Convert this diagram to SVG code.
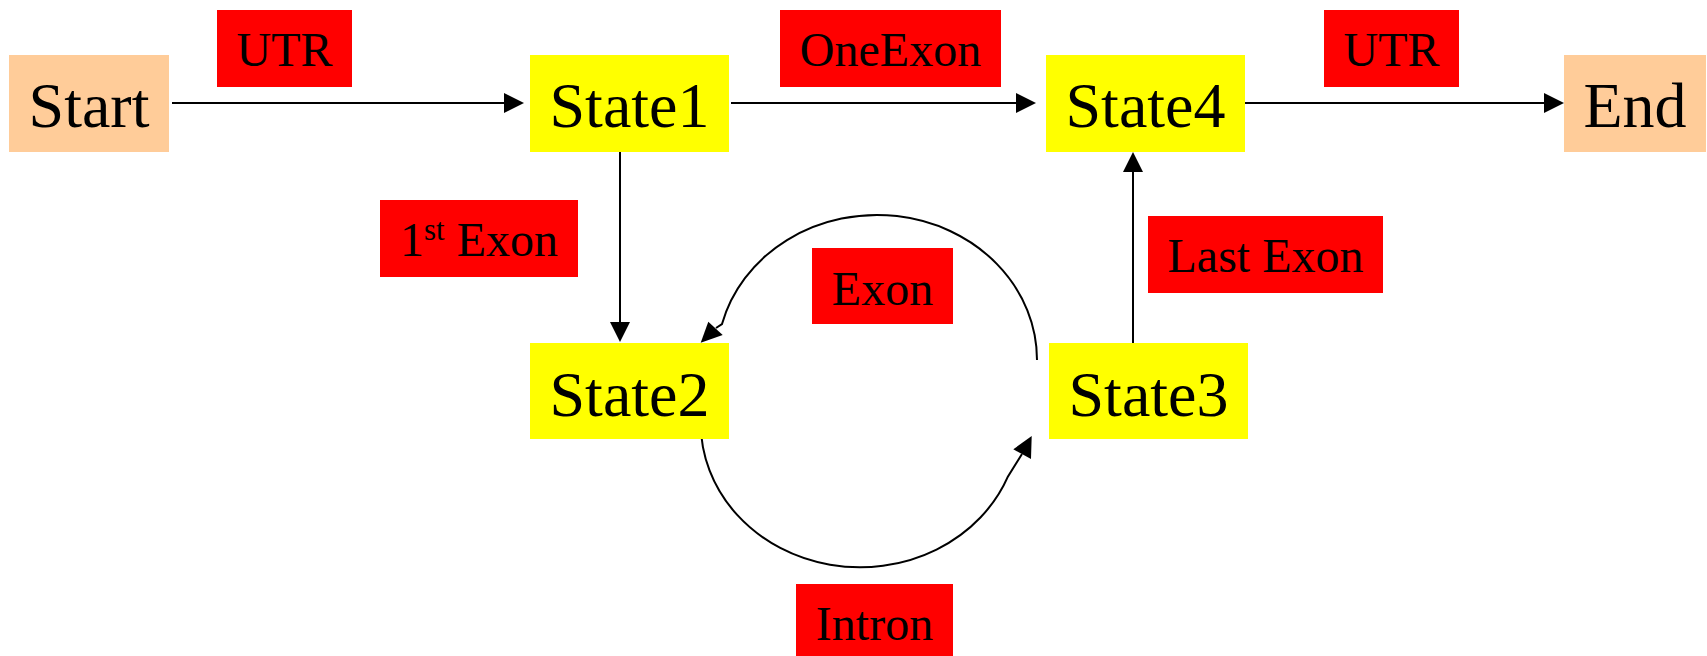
<svg xmlns="http://www.w3.org/2000/svg" width="1707" height="656" viewBox="0 0 1707 656">
<style>
  text { font-family: "Liberation Serif", "Times New Roman", serif; fill: #000; text-anchor: middle; }
  .node { font-size: 64px; }
  .lbl { font-size: 48px; }
  .term { fill: #FFCC99; }
  .state { fill: #FFFF00; }
  .tag { fill: #FF0000; }
  .conn { stroke: #000; stroke-width: 2; fill: none; }
  .head { fill: #000; }
</style>
<defs>
  <marker id="arr" markerUnits="userSpaceOnUse" markerWidth="20" markerHeight="20" refX="0" refY="10" orient="auto" viewBox="0 0 20 20">
    <path d="M0,0 L20,10 L0,20 z" fill="#000"/>
  </marker>
</defs>
<rect width="1707" height="656" fill="#fff"/>

<g id="connectors">
  <line class="conn" x1="172" y1="103" x2="504" y2="103" marker-end="url(#arr)"/>
  <line class="conn" x1="731" y1="103" x2="1016" y2="103" marker-end="url(#arr)"/>
  <line class="conn" x1="1244" y1="103" x2="1544" y2="103" marker-end="url(#arr)"/>
  <line class="conn" x1="620" y1="152" x2="620" y2="322" marker-end="url(#arr)"/>
  <line class="conn" x1="1133" y1="343" x2="1133" y2="172" marker-end="url(#arr)"/>
  <path class="conn" d="M1037,360 A160,145 0 0 0 722,324 L716,328"/>
  <polygon class="head" points="700.7,342.7 708.3,321.7 722.7,335"/>
  <path class="conn" d="M700.7,423 A159.3,144.3 0 0 0 1008,476.4 L1022,454"/>
  <polygon class="head" points="1031.7,436 1013.3,449.3 1031,459"/>
</g>

<g id="node-start">
  <rect class="term" x="9" y="55" width="160" height="97"/>
  <text class="node" x="89" y="127">Start</text>
</g>
<g id="node-state1">
  <rect class="state" x="530" y="55" width="199" height="97"/>
  <text class="node" x="629.5" y="127">State1</text>
</g>
<g id="node-state4">
  <rect class="state" x="1046" y="55" width="199" height="97"/>
  <text class="node" x="1145.5" y="127">State4</text>
</g>
<g id="node-end">
  <rect class="term" x="1564" y="55" width="142" height="97"/>
  <text class="node" x="1635" y="127">End</text>
</g>
<g id="node-state2">
  <rect class="state" x="530" y="343" width="199" height="96"/>
  <text class="node" x="629.5" y="416">State2</text>
</g>
<g id="node-state3">
  <rect class="state" x="1049" y="343" width="199" height="96"/>
  <text class="node" x="1148.5" y="416">State3</text>
</g>

<g id="label-utr1">
  <rect class="tag" x="217" y="10" width="135" height="77"/>
  <text class="lbl" x="284.5" y="66">UTR</text>
</g>
<g id="label-oneexon">
  <rect class="tag" x="780" y="10" width="221" height="77"/>
  <text class="lbl" x="890.5" y="66">OneExon</text>
</g>
<g id="label-utr2">
  <rect class="tag" x="1324" y="10" width="135" height="77"/>
  <text class="lbl" x="1391.5" y="66">UTR</text>
</g>
<g id="label-firstexon">
  <rect class="tag" x="380" y="200" width="198" height="77"/>
  <text class="lbl" x="479" y="256">1<tspan font-size="31" dy="-16">st</tspan><tspan dy="16"> Exon</tspan></text>
</g>
<g id="label-lastexon">
  <rect class="tag" x="1148" y="216" width="235" height="77"/>
  <text class="lbl" x="1265.5" y="272">Last Exon</text>
</g>
<g id="label-exon">
  <rect class="tag" x="812" y="248" width="141" height="76"/>
  <text class="lbl" x="882.5" y="305">Exon</text>
</g>
<g id="label-intron">
  <rect class="tag" x="796" y="584" width="157" height="72"/>
  <text class="lbl" x="874.5" y="640">Intron</text>
</g>
</svg>
